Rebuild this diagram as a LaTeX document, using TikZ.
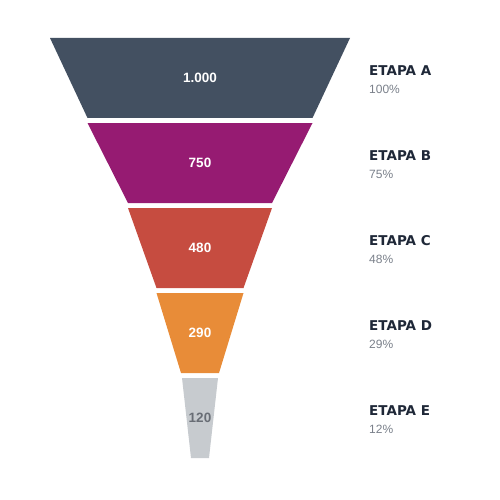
\documentclass[tikz,border=0pt]{standalone}
\usepackage{fontspec}
\setmainfont{Liberation Sans}
\newfontfamily\titulofont{DejaVu Sans}
\definecolor{etapaA}{HTML}{435061}
\definecolor{etapaB}{HTML}{961B72}
\definecolor{etapaC}{HTML}{C64C40}
\definecolor{etapaD}{HTML}{E88C38}
\definecolor{etapaE}{HTML}{C7CBCF}
\definecolor{titulo}{HTML}{1F2838}
\definecolor{cinza}{HTML}{7A808A}
\tikzset{
  valor/.style={text=white,font=\fontsize{13.5}{15}\selectfont\bfseries},
  etapa/.style={anchor=west,inner sep=0pt,text=titulo,font=\titulofont\fontsize{13.5}{16}\selectfont\bfseries},
  pct/.style={anchor=west,inner sep=0pt,text=cinza,font=\fontsize{12}{14}\selectfont}
}
\begin{document}
\begin{tikzpicture}[x=1pt,y=-1pt]
    \useasboundingbox (0,0) rectangle (500,500);
    \fill[etapaA] (50,38) -- (350,38) -- (312.5,118) -- (87.5,118) -- cycle;
    \fill[etapaB] (87.5,123) -- (312.5,123) -- (272,203) -- (128,203) -- cycle;
    \fill[etapaC] (128,208) -- (272,208) -- (243.5,288) -- (156.5,288) -- cycle;
    \fill[etapaD] (156.5,293) -- (243.5,293) -- (219,373) -- (181,373) -- cycle;
    \fill[etapaE] (182,378) -- (218,378) -- (209,458) -- (191,458) -- cycle;
    \node[valor] (vA) at (200,78) {1.000};
    \node[valor] (vB) at (200,163) {750};
    \node[valor] (vC) at (200,248) {480};
    \node[valor] (vD) at (200,333) {290};
    \node[valor,text=cinza!85!black] (vE) at (200,418) {120};
    \node[etapa] (eA) at (369,71) {ETAPA A};
    \node[pct] (pA) at (369,89) {100\%};
    \node[etapa] (eB) at (369,156) {ETAPA B};
    \node[pct] (pB) at (369,174) {75\%};
    \node[etapa] (eC) at (369,241) {ETAPA C};
    \node[pct] (pC) at (369,259) {48\%};
    \node[etapa] (eD) at (369,326) {ETAPA D};
    \node[pct] (pD) at (369,344) {29\%};
    \node[etapa] (eE) at (369,411) {ETAPA E};
    \node[pct] (pE) at (369,429) {12\%};
\end{tikzpicture}
\end{document}
